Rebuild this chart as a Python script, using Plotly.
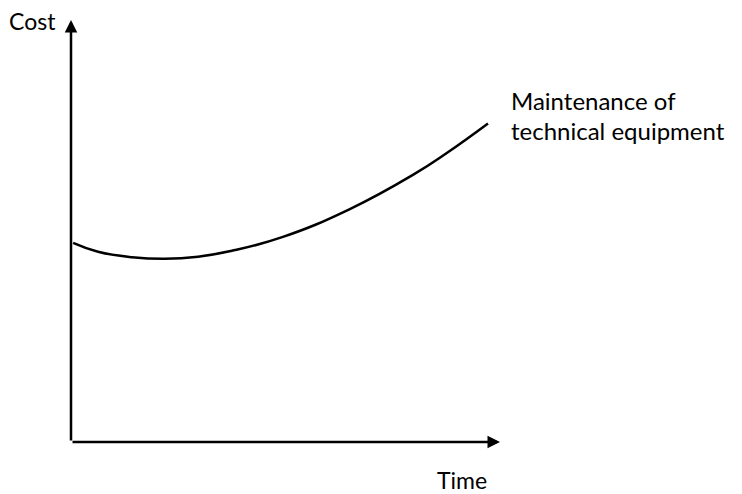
import plotly.graph_objects as go

# Curve data (abstract units: time 0..10, cost 0..10)
time_vals = [0.05, 0.63, 1.42, 2.19, 2.96, 3.75, 4.94, 6.50, 7.97, 8.76, 9.72]
cost_vals = [4.72, 4.51, 4.38, 4.34, 4.39, 4.53, 4.86, 5.52, 6.33, 6.85, 7.55]

x_label = "Time"
y_label = "Cost"
series_label = ["Maintenance of", "technical equipment"]

FONT = "Lato"
fig = go.Figure()

fig.add_trace(go.Scatter(
    x=time_vals, y=cost_vals, mode="lines",
    line=dict(color="black", width=2.5, shape="spline", smoothing=1.3),
    hoverinfo="skip", showlegend=False,
))

annotations = [
    # y-axis arrow
    dict(x=0, y=10, ax=0, ay=0, xref="x", yref="y", axref="x", ayref="y",
         showarrow=True, arrowhead=2, arrowsize=1, arrowwidth=2.5, arrowcolor="black", text=""),
    # x-axis arrow
    dict(x=10, y=0, ax=0, ay=0, xref="x", yref="y", axref="x", ayref="y",
         showarrow=True, arrowhead=2, arrowsize=1, arrowwidth=2.5, arrowcolor="black", text=""),
    dict(x=-0.03, y=0.998, xref="paper", yref="paper", text=y_label, showarrow=False,
         xanchor="right", yanchor="middle", font=dict(family=FONT, size=23, color="black")),
    dict(x=0.911, y=-0.09, xref="paper", yref="paper", text=x_label, showarrow=False,
         xanchor="center", yanchor="middle", font=dict(family=FONT, size=23, color="black")),
    dict(x=1.021, y=0.81, xref="paper", yref="paper", text=series_label[0], showarrow=False,
         xanchor="left", yanchor="middle", font=dict(family=FONT, size=24, color="black")),
    dict(x=1.021, y=0.738, xref="paper", yref="paper", text=series_label[1], showarrow=False,
         xanchor="left", yanchor="middle", font=dict(family=FONT, size=24, color="black")),
]

fig.update_layout(
    width=742, height=494,
    margin=dict(l=63, r=250, t=12, b=60),
    paper_bgcolor="white", plot_bgcolor="white",
    xaxis=dict(range=[0, 10], visible=False, fixedrange=True),
    yaxis=dict(range=[0, 10], visible=False, fixedrange=True),
    annotations=annotations,
    showlegend=False,
)

fig.write_html("out.html")
